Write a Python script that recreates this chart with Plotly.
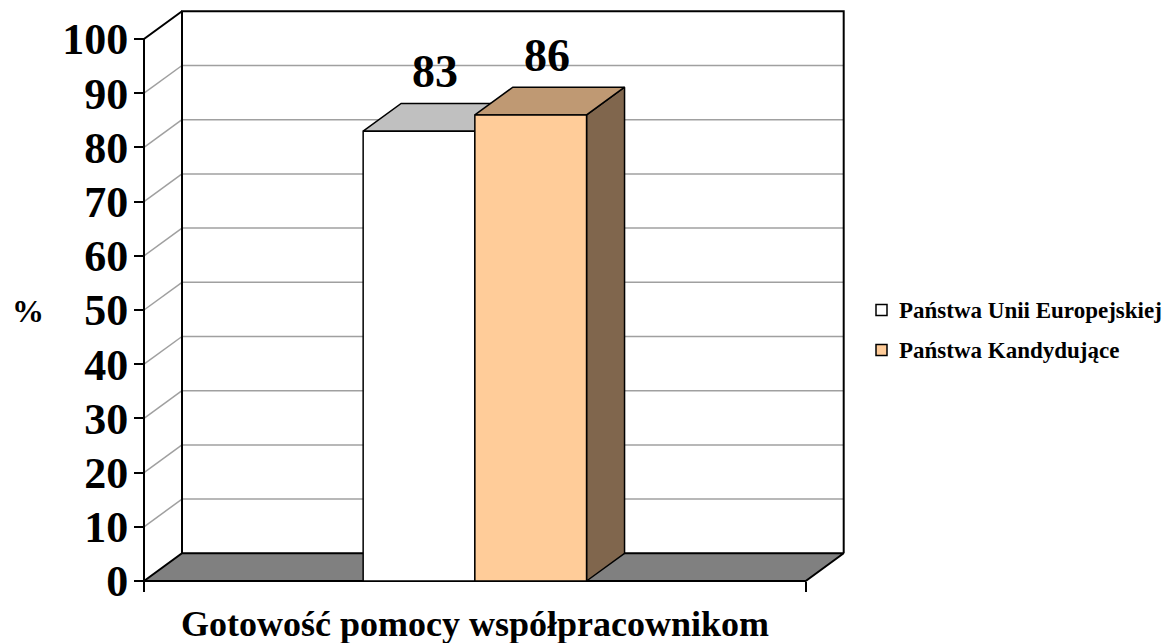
import plotly.graph_objects as go

# ---------------- data ----------------
categories = ["Gotowość pomocy współpracownikom"]
series_names = ["Państwa Unii Europejskiej", "Państwa Kandydujące"]
values_eu = [83]
values_cand = [86]
y_ticks = [0, 10, 20, 30, 40, 50, 60, 70, 80, 90, 100]
y_tick_labels = [str(v) for v in y_ticks]
y_axis_label = "%"

# ---------------- style / geometry ----------------
FONT = "Liberation Serif"
W_PX, H_PX = 1172, 643
KX = 661.7          # px per x unit (front floor width = 1 unit)
KY = 5.42           # px per y unit
X0_PX, Y0_PX = 144, 581
ML, MR, MT, MB = 130, 310, 4, 46
plot_w = W_PX - ML - MR
plot_h = H_PX - MT - MB
xmin = -(X0_PX - ML) / KX
xmax = xmin + plot_w / KX
ymin = -(H_PX - MB - Y0_PX) / KY
ymax = ymin + plot_h / KY
DX = 38 / KX        # depth offset in x units
DY = 27.7 / KY      # depth offset in y units
BW = 111.7 / KX     # bar width
YMAX_WALL = y_ticks[-1]

series_colors = [
    dict(front="#FFFFFF", top="#C0C0C0", side="#808080"),
    dict(front="#FFCC99", top="#BF9973", side="#80664D"),
]
GRID = "#A0A0A0"


def px_x(p):
    return (p - ML) / plot_w


def px_y(p):
    return 1 - (p - MT) / plot_h


fig = go.Figure()


def poly(pts, fill, line_color="black", width=1.5):
    xs = [p[0] for p in pts] + [pts[0][0]]
    ys = [p[1] for p in pts] + [pts[0][1]]
    fig.add_trace(go.Scatter(x=xs, y=ys, mode="lines", fill="toself",
                             fillcolor=fill, line=dict(color=line_color, width=width),
                             hoverinfo="skip", showlegend=False))


def line(xs, ys, color, width):
    fig.add_trace(go.Scatter(x=xs, y=ys, mode="lines",
                             line=dict(color=color, width=width),
                             hoverinfo="skip", showlegend=False))


# floor
poly([(0, 0), (1, 0), (1 + DX, DY), (DX, DY)], "#808080", width=2)

# back wall gridlines and left wall gridlines
for v in y_ticks[1:-1]:
    line([DX, 1 + DX], [v + DY, v + DY], GRID, 1.5)
    line([0, DX], [v, v + DY], GRID, 1.5)

# back wall outline
line([DX, DX, 1 + DX, 1 + DX], [DY, YMAX_WALL + DY, YMAX_WALL + DY, DY], "black", 2)
# front left axis + top diagonal
line([0, 0, DX], [0, YMAX_WALL, YMAX_WALL + DY], "black", 2)

# bars
all_values = [values_eu, values_cand]
n_series = len(all_values)
for ci, cat in enumerate(categories):
    center = ci + 0.5
    for si, vals in enumerate(all_values):
        v = vals[ci]
        x0 = center - n_series * BW / 2 + si * BW
        x1 = x0 + BW
        c = series_colors[si]
        poly([(x1, 0), (x1 + DX, DY), (x1 + DX, v + DY), (x1, v)], c["side"])
        poly([(x0, v), (x1, v), (x1 + DX, v + DY), (x0 + DX, v + DY)], c["top"])
        poly([(x0, 0), (x1, 0), (x1, v), (x0, v)], c["front"])
        fig.add_annotation(x=(x0 + x1) / 2 + DX / 2, y=v + DY, xref="x", yref="y",
                           text=str(v), showarrow=False, xanchor="center", yanchor="bottom",
                           xshift=-3, yshift=4,
                           font=dict(family=FONT, size=46, color="black", weight="bold"))

# legend (manual)
leg_y = [310, 350]
for si, name in enumerate(series_names):
    yc = leg_y[si]
    fig.add_shape(type="rect", xref="paper", yref="paper",
                  x0=px_x(876), x1=px_x(887), y0=px_y(yc + 5.5), y1=px_y(yc - 5.5),
                  line=dict(color="black", width=1.5), fillcolor=series_colors[si]["front"])
    fig.add_annotation(x=px_x(897), y=px_y(yc), xref="paper", yref="paper",
                       text=name, showarrow=False, xanchor="left", yanchor="middle",
                       font=dict(family=FONT, size=23, color="black", weight="bold"))

# axis titles
fig.add_annotation(x=px_x(28), y=px_y(311), xref="paper", yref="paper",
                   text=y_axis_label, showarrow=False, xanchor="center", yanchor="middle",
                   font=dict(family=FONT, size=32, color="black", weight="bold"))
fig.add_annotation(x=px_x(475), y=px_y(624), xref="paper", yref="paper",
                   text=categories[0], showarrow=False, xanchor="center", yanchor="middle",
                   font=dict(family=FONT, size=36, color="black", weight="bold"))

fig.update_layout(
    width=W_PX, height=H_PX,
    margin=dict(l=ML, r=MR, t=MT, b=MB, pad=0),
    paper_bgcolor="white", plot_bgcolor="white",
    showlegend=False, hovermode=False,
    xaxis=dict(range=[xmin, xmax], anchor="free", position=px_y(Y0_PX),
               showgrid=False, zeroline=False, showline=False,
               tickmode="array", tickvals=[0, 1], ticks="outside", ticklen=10,
               tickwidth=2, tickcolor="black", showticklabels=False, fixedrange=True),
    yaxis=dict(range=[ymin, ymax], anchor="free", position=px_x(X0_PX),
               showgrid=False, zeroline=False, showline=False,
               tickmode="array", tickvals=y_ticks, ticktext=y_tick_labels,
               ticks="outside", ticklen=10, tickwidth=2, tickcolor="black",
               ticklabelstandoff=-3,
               tickfont=dict(family=FONT, size=44, color="black", weight="bold"),
               fixedrange=True),
)

fig.write_html("out.html", config={"displayModeBar": False},
               post_script="document.body.style.margin='0';document.body.style.overflow='hidden';")
